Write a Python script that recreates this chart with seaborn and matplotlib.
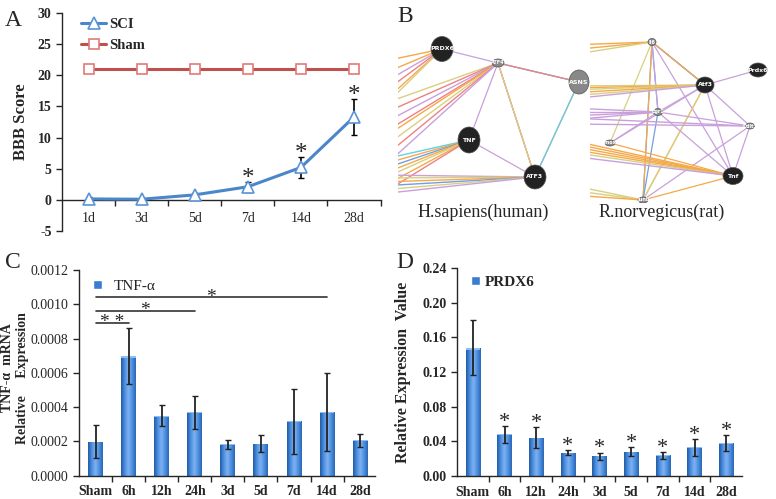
import numpy as np
import pandas as pd
import seaborn as sns
import matplotlib.pyplot as plt
from matplotlib.patches import Ellipse, Rectangle
from matplotlib.colors import LinearSegmentedColormap

# ---- data ----
days = ['1d', '3d', '5d', '7d', '14d', '28d']
sci_mean = [0.15, 0.1, 0.8, 2.1, 5.2, 13.3]
sci_err = [0.3, 0.2, 0.3, 0.8, 1.7, 2.9]
sham_mean = [21, 21, 21, 21, 21, 21]
sci_star = [False, False, False, True, True, True]

times = ['Sham', '6h', '12h', '24h', '3d', '5d', '7d', '14d', '28d']
tnf_mean = [0.000199, 0.000698, 0.000350, 0.000370, 0.000183, 0.000187, 0.000318, 0.000372, 0.000206]
tnf_err = [0.000095, 0.000165, 0.00006, 0.000095, 0.000025, 0.00005, 0.00019, 0.00023, 0.00004]
tnf_sig = [('Sham', '6h', 0.00089, '* *'), ('Sham', '24h', 0.00096, '*'), ('Sham', '14d', 0.00104, '*')]

prdx_mean = [0.148, 0.048, 0.044, 0.027, 0.023, 0.028, 0.024, 0.033, 0.038]
prdx_err = [0.032, 0.010, 0.012, 0.003, 0.004, 0.005, 0.004, 0.010, 0.009]

# networks (GeneMANIA style, positions in picture pixels)
human_nodes = ['PRDX6', 'ATF4', 'ASNS', 'TNF', 'ATF3']
human_xy = [(442, 49), (498, 63), (579, 82), (469, 140), (535, 177)]
human_size = [(22, 25), (12, 8), (20, 24), (22, 26), (22, 24)]
human_fill = ['#222222', '#888888', '#888888', '#222222', '#222222']
human_edges = [('ATF4', 'ASNS', '#c9a0dc'), ('ATF4', 'ASNS', '#5fd3e0'), ('ATF4', 'ASNS', '#f08080'),
               ('ATF4', 'TNF', '#c9a0dc'), ('ATF4', 'ATF3', '#c9a0dc'), ('ATF4', 'ATF3', '#f08080'),
               ('ATF4', 'ATF3', '#d8d080'), ('ASNS', 'ATF3', '#f08080'), ('ASNS', 'ATF3', '#5fd3e0'),
               ('TNF', 'ATF3', '#c9a0dc'), ('PRDX6', 'ATF4', '#c9a0dc')]
human_out = {'PRDX6': ([62, 75, 85, 95, 105, 110], ['#f5a94a', '#f5a94a', '#c9a0dc', '#f08080', '#f5a94a', '#d8d080']),
             'ATF4': ([105, 115, 125, 135, 140, 150, 160, 170], ['#d8d080', '#f08080', '#c9a0dc', '#f08080', '#f5a94a', '#d8d080', '#f08080', '#c9a0dc']),
             'TNF': ([160, 165, 170, 175, 180, 188, 195], ['#5fd3e0', '#f5a94a', '#70a0e0', '#f5a94a', '#d8d080', '#f5a94a', '#f08080']),
             'ATF3': ([175, 178, 182, 186, 190, 194], ['#c9a0dc', '#d8d080', '#f5a94a', '#70a0e0', '#d8d080', '#c9a0dc'])}

rat_nodes = ['Il6', 'Atf3', 'Prdx6', 'Egr1', 'Ddit3', 'Hmox1', 'Tnf', 'Junb']
rat_xy = [(652, 42), (705, 85), (758, 70), (658, 112), (750, 126), (610, 143), (733, 176), (643, 200)]
rat_size = [(8, 7), (18, 16), (18, 14), (9, 7), (9, 6), (10, 6), (20, 17), (10, 6)]
rat_fill = ['#888888', '#222222', '#222222', '#888888', '#888888', '#888888', '#222222', '#888888']
rat_edges = [('Il6', 'Atf3', '#c9a0dc'), ('Il6', 'Atf3', '#70a0e0'), ('Il6', 'Atf3', '#f5a94a'),
             ('Il6', 'Egr1', '#70a0e0'), ('Il6', 'Egr1', '#c9a0dc'), ('Il6', 'Tnf', '#c9a0dc'),
             ('Il6', 'Junb', '#70a0e0'), ('Il6', 'Junb', '#f5a94a'), ('Il6', 'Hmox1', '#d8d080'),
             ('Atf3', 'Prdx6', '#c9a0dc'), ('Atf3', 'Egr1', '#c9a0dc'), ('Atf3', 'Ddit3', '#c9a0dc'),
             ('Atf3', 'Tnf', '#c9a0dc'), ('Atf3', 'Junb', '#f5a94a'), ('Atf3', 'Junb', '#d8d080'),
             ('Atf3', 'Hmox1', '#c9a0dc'), ('Egr1', 'Ddit3', '#c9a0dc'), ('Egr1', 'Tnf', '#c9a0dc'),
             ('Egr1', 'Junb', '#70a0e0'), ('Ddit3', 'Tnf', '#c9a0dc'), ('Ddit3', 'Junb', '#c9a0dc'),
             ('Hmox1', 'Tnf', '#f5a94a'), ('Tnf', 'Junb', '#f5a94a'), ('Hmox1', 'Egr1', '#c9a0dc')]
rat_out = {'Il6': ([45, 50, 55], ['#f5a94a', '#f5a94a', '#d8d080']),
           'Atf3': ([86, 88, 90, 93, 96, 99], ['#d8d080', '#f5a94a', '#d8d080', '#f5a94a', '#d8d080', '#c9a0dc']),
           'Egr1': ([108, 112, 116, 120], ['#c9a0dc', '#c9a0dc', '#c9a0dc', '#c9a0dc']),
           'Ddit3': ([118, 124], ['#c9a0dc', '#c9a0dc']),
           'Tnf': ([140, 143, 146, 149, 152, 156], ['#f5a94a', '#f5a94a', '#f5a94a', '#f5a94a', '#d8d080', '#c9a0dc']),
           'Junb': ([185, 190, 195], ['#d8d080', '#d8d080', '#f5a94a'])}

# ---- style ----
sns.set_style('ticks')
plt.rcParams['font.family'] = ['Liberation Serif', 'DejaVu Serif']
plt.rcParams['axes.unicode_minus'] = False
plt.rcParams['axes.linewidth'] = 1.0
plt.rcParams['xtick.major.width'] = 1.0
plt.rcParams['ytick.major.width'] = 1.0
plt.rcParams['xtick.minor.width'] = 1.0

W, H = 776, 499
fig = plt.figure(figsize=(W / 100, H / 100), dpi=100)


def box(l, t, r, b):
    return [l / W, 1 - b / H, (r - l) / W, (b - t) / H]


BAR = '#3b7cd0'
bar_cmap = LinearSegmentedColormap.from_list('bar', ['#1f5aa6', '#4d8fe0', '#7fb3f0', '#4d8fe0', '#2a66b5'])


def shade_bars(ax):
    for p in ax.patches:
        x0, y0 = p.get_x(), p.get_y()
        w, h = p.get_width(), p.get_height()
        grad = np.linspace(0, 1, 64).reshape(1, -1)
        im = ax.imshow(grad, cmap=bar_cmap, aspect='auto', extent=[x0, x0 + w, y0, y0 + h],
                       zorder=p.get_zorder() + 0.1, interpolation='bicubic')
        im.set_clip_path(p)
        cap = Rectangle((x0, y0 + h * 0.985), w, h * 0.015, color='#8cc0f5', zorder=p.get_zorder() + 0.2, lw=0)
        ax.add_patch(cap)


# ---------------- Panel A ----------------
axA = fig.add_axes(box(62, 13, 380.5, 231))
posA = np.arange(len(days))
axA.errorbar(posA, sci_mean, yerr=sci_err, fmt='none', ecolor='black', elinewidth=1.2, capsize=2.5, zorder=2)
sns.lineplot(x=posA, y=sci_mean, ax=axA, color='#4a86c8', lw=2.2, marker='^', markersize=8,
             markerfacecolor='white', markeredgecolor='#5b93d6', markeredgewidth=1.2, label='SCI', zorder=3)
sns.lineplot(x=posA, y=sham_mean, ax=axA, color='#c0504d', lw=2.2, marker='s', markersize=7,
             markerfacecolor='white', markeredgecolor='#e07a78', markeredgewidth=1.2, label='Sham', zorder=3)
for i, s in enumerate(sci_star):
    if s:
        axA.text(posA[i], sci_mean[i] + sci_err[i] - 0.5, '*', ha='center', va='baseline', fontsize=18)
axA.set_xlim(-0.5, 5.5)
axA.set_ylim(-5, 30)
axA.set_yticks([-5, 0, 5, 10, 15, 20, 25, 30])
axA.set_xticks(posA)
axA.set_xticklabels(days, fontweight='bold', fontsize=10)
axA.set_xticks(np.arange(0.5, 6, 1), minor=True)
axA.tick_params(axis='x', which='major', length=0, pad=9)
axA.tick_params(axis='x', which='minor', length=4, direction='out')
axA.tick_params(axis='y', length=4, direction='out', labelsize=10)
for t in axA.get_yticklabels():
    t.set_fontweight('bold')
axA.spines['bottom'].set_position(('data', 0))
axA.spines['top'].set_visible(False)
axA.spines['right'].set_visible(False)
axA.set_ylabel('BBB Score', fontweight='bold', fontsize=12, labelpad=6)
axA.set_xlabel('')
axA.legend(loc='upper left', bbox_to_anchor=(0.02, 1.04), frameon=False, handlelength=1.7,
           handletextpad=0.2, labelspacing=0.55, prop={'weight': 'bold', 'size': 10.5})
fig.text(5 / W, 1 - 20 / H, 'A', fontsize=17, va='center')

# ---------------- Panel B ----------------
axB = fig.add_axes(box(386, 0, 776, 230))
axB.set_xlim(386, 776)
axB.set_ylim(230, 0)
axB.axis('off')
fig.text(397 / W, 1 - 16 / H, 'B', fontsize=17, va='center')


def draw_net(ax, names, xy, sizes, fills, edges, outs, clip, left_x):
    clip_rect = Rectangle((clip[0], clip[1]), clip[2] - clip[0], clip[3] - clip[1], transform=ax.transData,
                          fill=False, lw=0)
    ax.add_patch(clip_rect)
    pos = dict(zip(names, xy))
    for a, b, c in edges:
        ln, = ax.plot([pos[a][0], pos[b][0]], [pos[a][1], pos[b][1]], color=c, lw=0.9, zorder=1)
        ln.set_clip_path(clip_rect)
    for n, (ys, cs) in outs.items():
        for yy, c in zip(ys, cs):
            ln, = ax.plot([pos[n][0], left_x], [pos[n][1], yy], color=c, lw=1.0, zorder=1)
            ln.set_clip_path(clip_rect)
    for n, (x, y), (w, h), f in zip(names, xy, sizes, fills):
        e = Ellipse((x, y), w, h, facecolor=f, edgecolor='#555555', lw=0.5, zorder=3)
        ax.add_patch(e)
        e.set_clip_path(clip_rect)
        ax.text(x, y, n, color='white', fontsize=3.5 if w < 15 else 4.5, ha='center', va='center',
                fontweight='bold', family='DejaVu Sans', zorder=4, clip_on=True)


draw_net(axB, human_nodes, human_xy, human_size, human_fill, human_edges, human_out,
         (398, 28, 590, 194), 380)
draw_net(axB, rat_nodes, rat_xy, rat_size, rat_fill, rat_edges, rat_out,
         (590, 32, 776, 203), 570)
axB.text(483, 212, 'H.sapiens(human)', fontsize=13, ha='center', va='center')
axB.text(662, 212, 'R.norvegicus(rat)', fontsize=13, ha='center', va='center')

# ---------------- Panel C ----------------
axC = fig.add_axes(box(79, 270, 375, 475.7))
dfC = pd.DataFrame({'time': times, 'value': tnf_mean})
sns.barplot(data=dfC, x='time', y='value', ax=axC, color=BAR, saturation=1, width=0.45, errorbar=None,
            label='TNF-α')
shade_bars(axC)
posC = np.arange(len(times))
axC.errorbar(posC, tnf_mean, yerr=tnf_err, fmt='none', ecolor='#222222', elinewidth=1.3, capsize=2.5, zorder=5)
for a, b, yv, lab in tnf_sig:
    xa, xb = times.index(a), times.index(b)
    axC.plot([xa, xb], [yv, yv], color='#333333', lw=1.2, zorder=5)
    axC.text((xa + xb) / 2, yv - 0.000025, lab, ha='center', va='baseline', fontsize=14)
axC.set_xlim(-0.5, 8.45)
axC.set_ylim(0, 0.0012)
axC.set_yticks(np.arange(0, 0.00121, 0.0002))
axC.set_yticklabels(['%.4f' % v for v in np.arange(0, 0.00121, 0.0002)], fontsize=10)
axC.set_xticks(posC)
axC.set_xticklabels(times, fontweight='bold', fontsize=10)
axC.set_xticks(np.arange(0.5, 8.5, 1), minor=True)
axC.tick_params(axis='x', which='major', length=0, pad=7)
axC.tick_params(axis='x', which='minor', length=4, direction='out')
axC.tick_params(axis='y', length=4, direction='out')
axC.spines['top'].set_visible(False)
axC.spines['right'].set_visible(False)
axC.set_xlabel('')
axC.set_ylabel('')
axC.legend(loc='upper left', bbox_to_anchor=(0.0, 1.02), frameon=False, handlelength=0.6, handleheight=0.6,
           handletextpad=0.8, prop={'size': 11})
fig.text(8 / W, 1 - 368 / H, 'TNF-α  mRNA', rotation=90, fontweight='bold', fontsize=10, ha='center', va='center')
fig.text(23 / W, 1 - 378 / H, 'Relative     Expression', rotation=90, fontweight='bold', fontsize=10,
         ha='center', va='center')
fig.text(5 / W, 1 - 262 / H, 'C', fontsize=17, va='center')

# ---------------- Panel D ----------------
axD = fig.add_axes(box(457, 268, 742, 476))
dfD = pd.DataFrame({'time': times, 'value': prdx_mean})
sns.barplot(data=dfD, x='time', y='value', ax=axD, color=BAR, saturation=1, width=0.45, errorbar=None,
            label='PRDX6')
shade_bars(axD)
posD = np.arange(len(times))
axD.errorbar(posD, prdx_mean, yerr=prdx_err, fmt='none', ecolor='#222222', elinewidth=1.3, capsize=2.5, zorder=5)
for i in range(1, len(times)):
    axD.text(posD[i], prdx_mean[i] + prdx_err[i] - 0.001, '*', ha='center', va='baseline', fontsize=16)
axD.set_xlim(-0.5, 8.5)
axD.set_ylim(0, 0.24)
axD.set_yticks(np.arange(0, 0.241, 0.04))
axD.set_yticklabels(['%.2f' % v for v in np.arange(0, 0.241, 0.04)], fontsize=10, fontweight='bold')
axD.set_xticks(posD)
axD.set_xticklabels(times, fontweight='bold', fontsize=10)
axD.set_xticks(np.arange(0.5, 8.5, 1), minor=True)
axD.tick_params(axis='x', which='major', length=0, pad=7)
axD.tick_params(axis='x', which='minor', length=4, direction='out')
axD.tick_params(axis='y', length=4, direction='out')
axD.spines['top'].set_visible(False)
axD.spines['right'].set_visible(False)
axD.set_xlabel('')
axD.set_ylabel('Relative Expression  Value', fontweight='bold', fontsize=11.5, labelpad=8)
axD.legend(loc='upper left', bbox_to_anchor=(0.0, 1.03), frameon=False, handlelength=0.6, handleheight=0.6,
           handletextpad=0.3, prop={'size': 11, 'weight': 'bold'})
fig.text(396 / W, 1 - 262 / H, 'D', fontsize=17, va='center')

fig.savefig('out.png', dpi=100)
